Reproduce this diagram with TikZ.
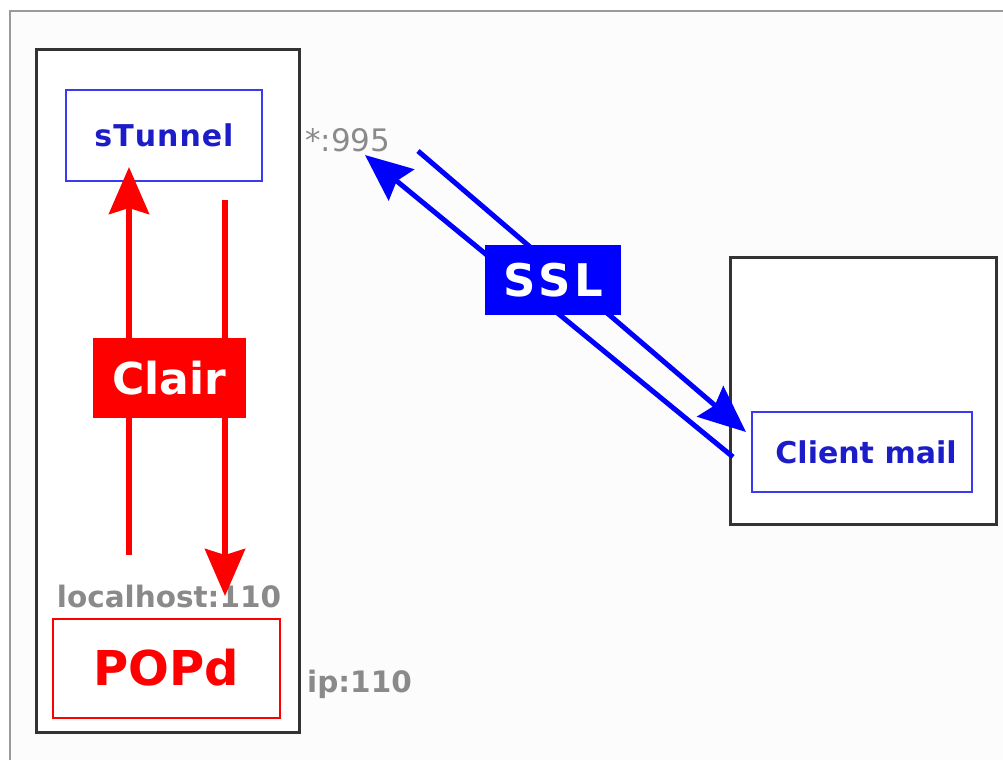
\documentclass[tikz,border=0pt]{standalone}
\usepackage{fontspec}
\setmainfont{DejaVu Sans}
\usetikzlibrary{arrows.meta}

\definecolor{frameGray}{HTML}{9A9A9A}
\definecolor{boxGray}{HTML}{333333}
\definecolor{labelGray}{HTML}{8A8A8A}
\definecolor{pureRed}{HTML}{FF0000}
\definecolor{pureBlue}{HTML}{0000FF}
\definecolor{boxBlue}{HTML}{3A3AF0}
\definecolor{textBlue}{HTML}{1C1CC8}

\newcommand{\fsz}[1]{\fontsize{#1}{#1}\selectfont}

\tikzset{
  machine/.style={draw=boxGray, line width=3pt, fill=white},
  bluebox/.style={draw=boxBlue, line width=2pt, fill=white, text=textBlue, font=\fsz{30}\bfseries},
  redbox/.style={draw=pureRed, line width=2pt, fill=white, text=pureRed, font=\fsz{48}\bfseries},
  port/.style={text=labelGray, font=\fsz{29.5}\bfseries, inner sep=0pt},
  plainflow/.style={pureRed, line width=6pt, -{Stealth[length=47pt, width=40pt, inset=6pt]}},
  sslflow/.style={pureBlue, line width=5pt, -{Stealth[length=47pt, width=40pt, inset=6pt]}},
  tag/.style={text=white, font=\fsz{44}\bfseries, inner sep=0pt}
}

\begin{document}
\begin{tikzpicture}[x=1pt, y=-1pt]
  \useasboundingbox (0,0) rectangle (1003,760);
  % page frame
  \fill[white!99!black] (10,11) rectangle (1003,760);
  \draw[frameGray, line width=2pt] (10,760) -- (10,11) -- (1003,11);

  % server machine
  \node[machine, minimum width=263pt, minimum height=682pt, inner sep=0pt] (server) at (168,391) {};
  \node[bluebox, minimum width=196pt, minimum height=91pt, inner sep=0pt] (stunnel) at (164,135) {s\kern1ptT\kern1ptu\kern1ptn\kern1ptn\kern1pte\kern1ptl};
  \node[redbox, minimum width=227pt, minimum height=99pt, inner sep=0pt] (popd) at (166,668) {POPd};
  \node[port, anchor=base] (localport) at (169,607) {localhost:110};
  \node[port, anchor=base west] (ipport) at (307,692) {ip:110};

  % client machine
  \node[machine, minimum width=266pt, minimum height=267pt, inner sep=0pt] (client) at (863,391) {};
  \node[bluebox, minimum width=220pt, minimum height=80pt, inner sep=0pt, text depth=0pt] (mail) at (862,452) {\hspace*{8pt}Client mail};

  % exposed SSL port
  \node[text=labelGray, font=\fsz{31}, anchor=base west, inner sep=0pt] (sslport) at (305,151) {*:995};

  % plain-text traffic between stunnel and the POP daemon
  \coordinate (upFrom) at (129,555);
  \coordinate (upTo) at (129,167);
  \coordinate (downFrom) at (225,200);
  \coordinate (downTo) at (225,596);
  \draw[plainflow] (upFrom) -- (upTo);
  \draw[plainflow] (downFrom) -- (downTo);
  \node[fill=pureRed, minimum width=153pt, minimum height=80pt, inner sep=0pt] (clair) at (169,378) {};
  \node[tag] at (clair) {Clair};

  % encrypted traffic between the mail client and stunnel
  \coordinate (inFrom) at (733,457);
  \coordinate (inTo) at (365,155);
  \coordinate (outFrom) at (418,151);
  \coordinate (outTo) at (746,432);
  \draw[sslflow] (inFrom) -- (inTo);
  \draw[sslflow] (outFrom) -- (outTo);
  \node[fill=pureBlue, minimum width=136pt, minimum height=70pt, inner sep=0pt] (ssl) at (553,280) {};
  \node[tag, font=\fsz{45}\bfseries] at (ssl) {S\kern3pt S\kern3pt L};
\end{tikzpicture}
\end{document}
